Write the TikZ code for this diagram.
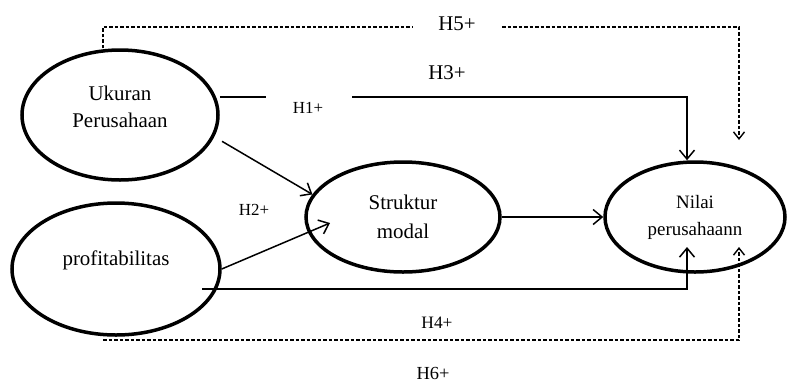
\documentclass[tikz,border=0pt]{standalone}
\usepackage{fontspec}
\setmainfont{Liberation Serif}
\usetikzlibrary{shapes.geometric,arrows.meta}
\tikzset{
  var/.style={draw, ellipse, line width=3.5bp, inner sep=0pt},
  conn/.style={line width=1.5bp},
  arr/.style={conn, -{Straight Barb[length=9bp,width=15bp,line width=1.5bp]}},
  dconn/.style={line width=1.4bp, dash pattern=on 3.5bp off 2bp},
  darr/.style={dconn, -{Straight Barb[length=7bp,width=11bp,line width=1.4bp]}},
  vtext/.style={align=center, anchor=base, font=\fontsize{21}{27}\selectfont},
  hlab/.style={anchor=center, inner sep=0pt},
}
\begin{document}
\begin{tikzpicture}[x=1bp, y=-1bp]
\useasboundingbox (0,0) rectangle (791,383);
% variables
\node[var, minimum width=196bp, minimum height=130bp] (uk) at (120,115) {};
\node[var, minimum width=208bp, minimum height=132bp] (pf) at (116,269) {};
\node[var, minimum width=194bp, minimum height=110bp] (st) at (403,217) {};
\node[var, minimum width=180bp, minimum height=110bp] (nv) at (695,217) {};
\node[vtext] (ukt) at (120,127) {Ukuran\\Perusahaan};
\node[vtext] (pft) at (116,265) {profitabilitas};
\node[vtext, font=\fontsize{21}{29}\selectfont] (stt) at (403,238) {Struktur\\modal};
\node[vtext, font=\fontsize{19}{27}\selectfont] (nvt) at (695,235) {Nilai\\perusahaann};
% turning points and free ends
\coordinate (c3) at (687,97);
\coordinate (g1a) at (266,97);
\coordinate (g1b) at (352,97);
\coordinate (c5a) at (103,27);
\coordinate (g5a) at (412,27);
\coordinate (g5b) at (502,27);
\coordinate (c5b) at (739,27);
\coordinate (e5) at (739,140);
\coordinate (s4) at (202,289);
\coordinate (c4) at (687,289);
\coordinate (e4) at (687,247);
\coordinate (s6) at (103,340);
\coordinate (c6) at (739,340);
\coordinate (e6) at (739,247);
\coordinate (e2) at (330,223);
% connectors
\draw[conn] (uk.east |- c3) -- (g1a);
\draw[arr] (g1b) -- (c3) -- (c3 |- nv.north);
\draw[arr, shorten <=9bp] (uk.-13) -- (st.166);
\draw[arr] (pf.east) -- (e2);
\draw[arr] (st.east) -- (nv.west);
\draw[arr] (s4) -- (c4) -- (e4);
\draw[dconn] (c5a |- uk.north) -- (c5a) -- (g5a);
\draw[darr] (g5b) -- (c5b) -- (e5);
\draw[darr] (s6) -- (c6) -- (e6);
% labels
\node[hlab, font=\fontsize{17}{20}\selectfont] (l1) at (308,108) {H1+};
\node[hlab, font=\fontsize{17}{20}\selectfont] (l2) at (254,210) {H2+};
\node[hlab, font=\fontsize{21}{24}\selectfont] (l3) at (447,73) {H3+};
\node[hlab, font=\fontsize{17.5}{20}\selectfont] (l4) at (437,323) {H4+};
\node[hlab, font=\fontsize{21}{24}\selectfont] (l5) at (457,24) {H5+};
\node[hlab, font=\fontsize{18.5}{21}\selectfont] (l6) at (433,373) {H6+};
\end{tikzpicture}
\end{document}
